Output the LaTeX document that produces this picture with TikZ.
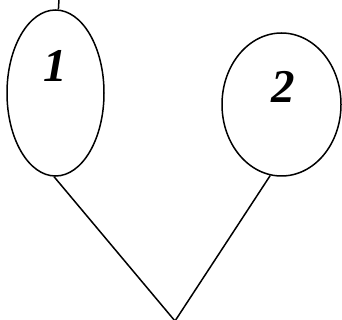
\documentclass[tikz,border=0pt]{standalone}
\usepackage{fontspec}
\setmainfont{Liberation Serif}
\usetikzlibrary{shapes.geometric}
\begin{document}
\begin{tikzpicture}[x=1pt,y=-1pt,
  blob/.style={draw,ellipse,line width=1.5pt,inner sep=0pt},
  numlabel/.style={font=\fontsize{47}{47}\selectfont\bfseries\itshape,inner sep=0pt},
  link/.style={line width=1.5pt}]
\useasboundingbox (0,0) rectangle (342,320);
\node[blob,minimum width=97,minimum height=166] (e1) at (55.5,93) {};
\node[blob,minimum width=119,minimum height=143] (e2) at (281.5,104.5) {};
\node[numlabel] (t1) at (55,66) {1};
\node[numlabel] (t2) at (283,87) {2};
\coordinate (top) at (59,-1);
\coordinate (apex) at (175,321);
\draw[link] (top) -- (e1.88);
\draw[link] (e1.269) -- (apex) -- (e2.261);
\end{tikzpicture}
\end{document}
